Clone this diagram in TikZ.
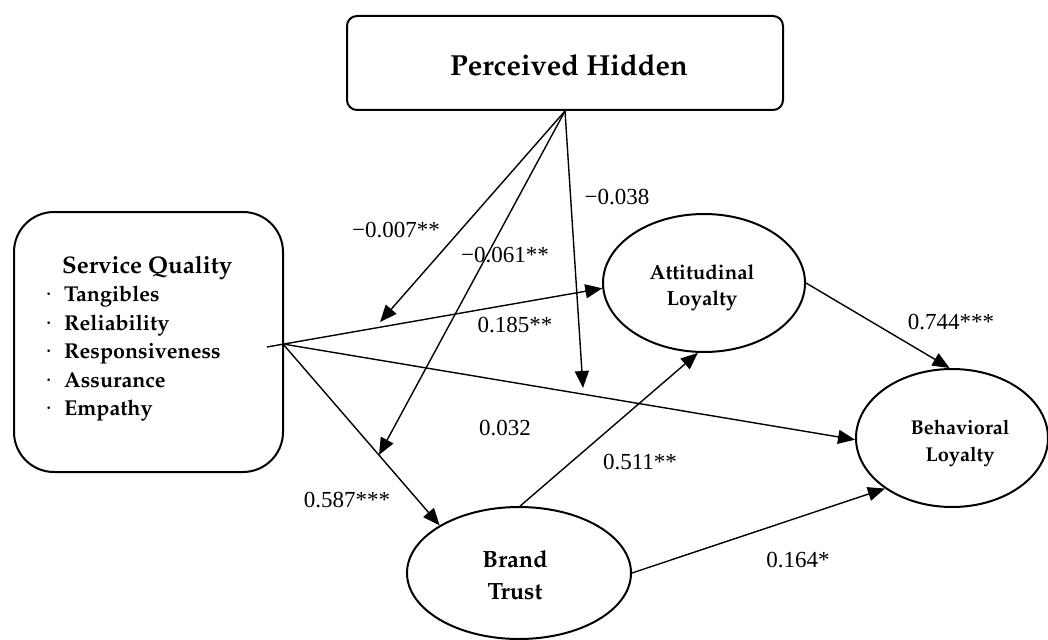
\documentclass[tikz,border=0pt]{standalone}
\usepackage[T1]{fontenc}
\usepackage{fontspec}
\setmainfont{Liberation Serif}
\usetikzlibrary{arrows.meta,shapes.geometric}
\newcommand\palb{\fontencoding{T1}\fontfamily{ppl}\fontseries{b}\fontshape{n}\selectfont}
\newcommand\sqdot{\makebox[19pt][l]{\normalfont\fontsize{22}{28.5}\selectfont ·}}
\tikzset{
  rbox/.style={draw, line width=2pt, inner sep=0pt, fill=white},
  latent/.style={draw, ellipse, line width=2pt, inner sep=0pt, align=center, fill=white},
  ltext/.style={inner sep=0pt, align=center},
  arr/.style={line width=1.4pt, -{Triangle[length=17pt,width=14pt]}},
  coef/.style={inner sep=0pt, font=\fontsize{23}{27}\selectfont},
}
\begin{document}
\begin{tikzpicture}[x=1pt,y=-1pt]
\useasboundingbox (0,0) rectangle (1048,639);
% nodes
\node[rbox, rounded corners=10pt, minimum width=436pt, minimum height=94pt] (PH) at (565,63) {};
\node[inner sep=0pt, font=\palb\fontsize{29}{32}\selectfont] (PHt) at (569,65) {Perceived Hidden};
\node[rbox, rounded corners=40pt, minimum width=269pt, minimum height=260pt] (SQ) at (148.5,342) {};
\node[inner sep=0pt, anchor=north west, font=\palb\fontsize{21.5}{28.5}\selectfont] (SQt) at (45,253)
  {\begin{tabular}{@{}l@{}l@{}}
   & \hspace*{-2pt}{\fontsize{24}{28.5}\selectfont Service Quality}\\
   \sqdot & Tangibles\\
   \sqdot & Reliability\\
   \sqdot & Responsiveness\\
   \sqdot & Assurance\\
   \sqdot & Empathy
   \end{tabular}};
\node[latent, minimum width=202pt, minimum height=138pt] (AL) at (704,283) {};
\node[ltext, font=\palb\fontsize{20.5}{26}\selectfont] (ALt) at (702,288) {Attitudinal\\Loyalty};
\node[latent, minimum width=192pt, minimum height=138pt] (BL) at (952,438) {};
\node[ltext, font=\palb\fontsize{20}{27}\selectfont] (BLt) at (960,443) {Behavioral\\Loyalty};
\node[latent, minimum width=224pt, minimum height=132pt] (BT) at (519,573) {};
\node[ltext, font=\palb\fontsize{23.5}{32}\selectfont] (BTt) at (515,575) {Brand\\Trust};
% coordinates
\coordinate (T) at (267,347);
\coordinate (S) at (283,344);
\coordinate (m1) at (380,322);
\coordinate (m2) at (379,455);
\coordinate (m3) at (583,388);
% connectors
\draw[arr] (T) -- (AL.183);
\draw[arr] (S) -- (BL.181);
\draw[arr] (S) -- (BT.149);
\draw[arr] (BT.89) -- (AL.265);
\draw[arr] (BT.0) -- (BL.217);
\draw[arr] (AL.0) -- (BL.92);
\draw[arr] (PH.south) -- (m1);
\draw[arr] (PH.south) -- (m2);
\draw[arr] (PH.south) -- (m3);
% labels
\node[coef] (l1) at (515,325) {0.185**};
\node[coef] (l2) at (505,428) {0.032};
\node[coef] (l3) at (347,500) {0.587***};
\node[coef] (l4) at (640,462) {0.511**};
\node[coef] (l5) at (798,560) {0.164*};
\node[coef] (l6) at (951,322) {0.744***};
\node[coef] (l7) at (396,230) {−0.007**};
\node[coef] (l8) at (505,255) {−0.061**};
\node[coef] (l9) at (617,197) {−0.038};
\end{tikzpicture}
\end{document}
